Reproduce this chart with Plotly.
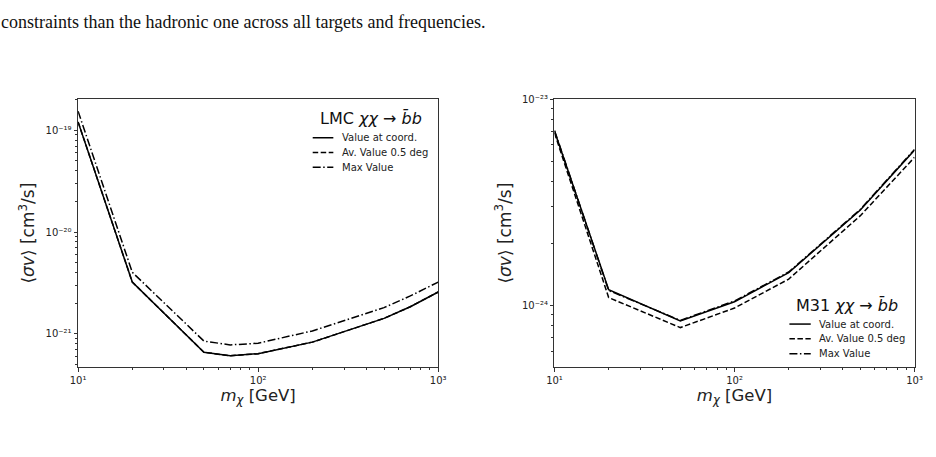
import plotly.graph_objects as go

# ---- data ----
lmc_mass = [10, 20, 50, 70, 100, 200, 500, 700, 1000]
lmc_coord = [1.21e-19, 3.23e-21, 6.6e-22, 6.1e-22, 6.4e-22, 8.3e-22, 1.42e-21, 1.85e-21, 2.58e-21]
lmc_avg = [1.21e-19, 3.23e-21, 6.6e-22, 6.1e-22, 6.4e-22, 8.3e-22, 1.42e-21, 1.85e-21, 2.58e-21]
lmc_max = [1.54e-19, 4.03e-21, 8.5e-22, 7.8e-22, 8.1e-22, 1.07e-21, 1.81e-21, 2.36e-21, 3.23e-21]

m31_mass = [10, 20, 50, 100, 200, 500, 1000]
m31_coord = [7.0e-24, 1.19e-24, 8.4e-25, 1.04e-24, 1.44e-24, 2.9e-24, 5.66e-24]
m31_avg = [6.85e-24, 1.09e-24, 7.8e-25, 9.7e-25, 1.34e-24, 2.72e-24, 5.22e-24]
m31_max = [7.05e-24, 1.18e-24, 8.45e-25, 1.05e-24, 1.45e-24, 2.92e-24, 5.7e-24]

series_names = ["Value at coord.", "Av. Value 0.5 deg", "Max Value"]
dashes = ["solid", "5.5px,2.5px", "8px,2.5px,1.5px,2.5px"]

x_tickvals = [10, 100, 1000]
x_ticktext = ["10¹", "10²", "10³"]
x_minorvals = [20, 30, 40, 50, 60, 70, 80, 90, 200, 300, 400, 500, 600, 700, 800, 900]
lmc_tickvals = [1e-21, 1e-20, 1e-19]
lmc_ticktext = ["10⁻²¹", "10⁻²⁰", "10⁻¹⁹"]
lmc_minorvals = [k * 1e-22 for k in range(5, 10)] + [k * 1e-21 for k in range(2, 10)] + \
                [k * 1e-20 for k in range(2, 10)] + [2e-19]
m31_tickvals = [1e-24, 1e-23]
m31_ticktext = ["10⁻²⁴", "10⁻²³"]
m31_minorvals = [k * 1e-25 for k in range(5, 10)] + [k * 1e-24 for k in range(2, 10)]

W, H = 936, 457
def px(x):
    return x / W
def py(y):
    return 1 - y / H

fig = go.Figure()
for name, y, d in zip(series_names, [lmc_coord, lmc_avg, lmc_max], dashes):
    fig.add_trace(go.Scatter(x=lmc_mass, y=y, mode="lines", name=name, showlegend=False,
                             line=dict(color="black", width=1.5, dash=d),
                             xaxis="x", yaxis="y"))
for name, y, d in zip(series_names, [m31_coord, m31_avg, m31_max], dashes):
    fig.add_trace(go.Scatter(x=m31_mass, y=y, mode="lines", name=name, showlegend=False,
                             line=dict(color="black", width=1.5, dash=d),
                             xaxis="x2", yaxis="y2"))

ydom = [py(366), py(94.3)]

axis_common = dict(type="log", showgrid=False, zeroline=False, showline=True,
                   linecolor="#333", linewidth=1, mirror=True, ticks="outside",
                   ticklen=3.5, tickwidth=0.8, tickcolor="#333", tickmode="array",
                   tickfont=dict(family="DejaVu Sans", size=10, color="#222"))

def minor(vals):
    return dict(tickmode="array", tickvals=vals, ticks="outside", ticklen=2,
                tickwidth=0.6, tickcolor="#333", showgrid=False)

xtitle = dict(text="<i>m</i><sub><i>χ</i></sub> [GeV]", font=dict(family="DejaVu Sans", size=16.5, color="#222"), standoff=3)
ytitle = dict(text="⟨<i>σv</i>⟩ [cm<sup>3</sup>/s]", font=dict(family="DejaVu Sans", size=17, color="#222"), standoff=6)

shapes = []
annotations = [dict(text="constraints than the hadronic one across all targets and frequencies.",
                    x=0, y=py(16), xref="paper", yref="paper", xanchor="left", yanchor="middle",
                    xshift=-9, showarrow=False,
                    font=dict(family="Liberation Serif", size=18, color="#111"))]

def add_legend(title, title_cx, title_cy, line_x0, line_x1, text_x, rows):
    annotations.append(dict(text=title, x=px(title_cx), y=py(title_cy), xref="paper", yref="paper",
                            xanchor="center", yanchor="middle", showarrow=False,
                            font=dict(family="DejaVu Sans", size=16, color="#111")))
    for name, d, ry in zip(series_names, dashes, rows):
        shapes.append(dict(type="line", xref="paper", yref="paper",
                           x0=px(line_x0), x1=px(line_x1), y0=py(ry), y1=py(ry),
                           line=dict(color="black", width=1.5, dash=d)))
        annotations.append(dict(text=name, x=px(text_x), y=py(ry), xref="paper", yref="paper",
                                xanchor="left", yanchor="middle", showarrow=False,
                                font=dict(family="DejaVu Sans", size=10, color="#222")))

add_legend("LMC <i>χχ</i> → <i>b̄b</i>", 369, 113.5, 310, 331, 338, [133.5, 148.5, 163.5])
add_legend("M31 <i>χχ</i> → <i>b̄b</i>", 854, 303.5, 795, 816.7, 823, [322.3, 337.3, 352.3])

fig.update_layout(
    width=W, height=H, margin=dict(l=0, r=0, t=0, b=0),
    paper_bgcolor="white", plot_bgcolor="white",
    xaxis=dict(axis_common, domain=[px(71.3), px(437.7)], range=[1, 3], anchor="y", title=xtitle,
               tickvals=x_tickvals, ticktext=x_ticktext, minor=minor(x_minorvals)),
    yaxis=dict(axis_common, domain=ydom, range=[-21.327, -18.693], anchor="x", title=ytitle,
               tickvals=lmc_tickvals, ticktext=lmc_ticktext, minor=minor(lmc_minorvals)),
    xaxis2=dict(axis_common, domain=[px(556), px(922.3)], range=[1, 3], anchor="y2", title=xtitle,
                tickvals=x_tickvals, ticktext=x_ticktext, minor=minor(x_minorvals)),
    yaxis2=dict(axis_common, domain=ydom, range=[-24.3, -23.0], anchor="x2", title=ytitle,
                tickvals=m31_tickvals, ticktext=m31_ticktext, minor=minor(m31_minorvals)),
    shapes=shapes,
    annotations=annotations,
)

fig.write_html("out.html")
